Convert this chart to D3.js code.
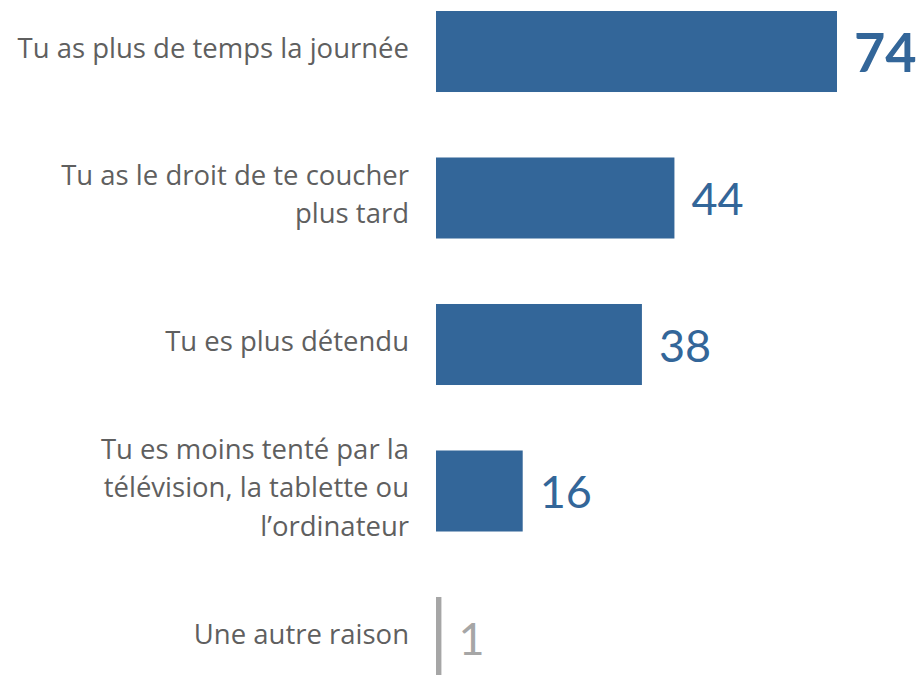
<!DOCTYPE html>
<html>
<head>
<meta charset="utf-8">
<script src="https://cdn.jsdelivr.net/npm/d3@7"></script>
<style>
  body { margin: 0; background: #ffffff; }
  svg { display: block; }
</style>
</head>
<body>
<div id="chart"></div>
<script>
// reasons, each label already split in lines like in the picture
const categories = [
    ["Tu as plus de temps la journée"],
    ["Tu as le droit de te coucher", "plus tard"],
    ["Tu es plus détendu"],
    ["Tu es moins tenté par la", "télévision, la tablette ou", "l’ordinateur"],
    ["Une autre raison"]
]
const values = [74, 44, 38, 16, 1]
// the "other" answer is drawn in grey
const greyed = [false, false, false, false, true]

const width = 922
const height = 675

const blue = "#336699"
const grey = "#a6a6a6"
const labelColor = "#5f5f5f"

const svg = d3.select("#chart").append("svg")
    .attr("width", width)
    .attr("height", height)

// scales
const y = d3.scaleBand()
    .domain(d3.range(values.length))
    .range([11, 678])
    .paddingInner(0.447)
    .paddingOuter(0)

const x = d3.scaleLinear()
    .domain([0, 74])
    .range([436, 837])

const maxValue = d3.max(values)

// bars
svg.append("g")
    .selectAll("rect")
    .data(values)
    .enter()
    .append("rect")
        .attr("x", x(0))
        .attr("y", function(d, i) { return y(i) })
        .attr("width", function(d) { return x(d) - x(0) })
        .attr("height", y.bandwidth())
        .style("fill", function(d, i) { return greyed[i] ? grey : blue })

// value labels next to the bars, the biggest in bold
svg.append("g")
    .selectAll("text")
    .data(values)
    .enter()
    .append("text")
        .attr("x", function(d) { return x(d) + 17 })
        .attr("y", function(d, i) { return y(i) + y.bandwidth() / 2 })
        .attr("dy", "0.38em")
        .style("font-family", "Lato, 'Open Sans', sans-serif")
        .style("font-size", function(d) { return d === maxValue ? "54px" : "45px" })
        .style("font-weight", function(d) { return d === maxValue ? "bold" : "normal" })
        .style("fill", function(d, i) { return greyed[i] ? grey : blue })
        .text(function(d) { return d })

// category labels, right aligned before the bars
const lineHeight = 38.5
const labels = svg.append("g")
    .selectAll("text")
    .data(categories)
    .enter()
    .append("text")
        .attr("text-anchor", "end")
        .style("font-family", "'Open Sans', sans-serif")
        .style("font-size", "27.5px")
        .style("fill", labelColor)

labels.each(function(lines, i) {
    const center = y(i) + y.bandwidth() / 2
    d3.select(this).selectAll("tspan")
        .data(lines)
        .enter()
        .append("tspan")
            .attr("x", 409)
            .attr("y", function(l, j) { return center + (j - (lines.length - 1) / 2) * lineHeight })
            .attr("dy", "0.22em")
            .text(function(l) { return l })
})
</script>
</body>
</html>
